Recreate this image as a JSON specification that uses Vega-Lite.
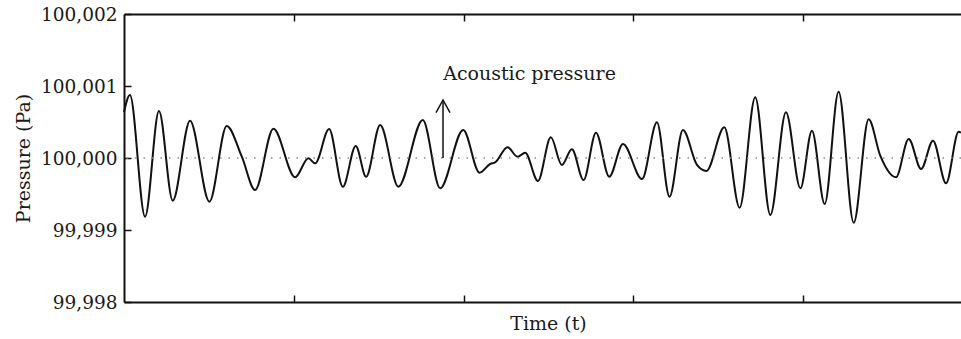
{
  "$schema": "https://vega.github.io/schema/vega-lite/v6.json",
  "width": 837,
  "height": 288,
  "autosize": "none",
  "padding": {"left": 124, "top": 14, "right": 0, "bottom": 37},
  "background": "white",
  "config": {
    "view": {"stroke": null},
    "font": "DejaVu Serif",
    "axis": {
      "domainColor": "#111",
      "domainWidth": 2,
      "tickColor": "#111",
      "tickWidth": 1.5,
      "grid": false,
      "labelFont": "DejaVu Serif",
      "titleFont": "DejaVu Serif",
      "labelColor": "#1a1a1a",
      "titleColor": "#1a1a1a",
      "titleFontWeight": "normal",
      "labelFontSize": 18.5,
      "titleFontSize": 19
    }
  },
  "datasets": {
    "wave": [
      {"t": 0.0, "p": 100000.639},
      {"t": 0.035, "p": 100000.875},
      {"t": 0.124, "p": 99999.185},
      {"t": 0.206, "p": 100000.653},
      {"t": 0.287, "p": 99999.407},
      {"t": 0.389, "p": 100000.518},
      {"t": 0.503, "p": 99999.393},
      {"t": 0.605, "p": 100000.444},
      {"t": 0.694, "p": 100000.018},
      {"t": 0.772, "p": 99999.556},
      {"t": 0.88, "p": 100000.407},
      {"t": 1.008, "p": 99999.732},
      {"t": 1.086, "p": 99999.996},
      {"t": 1.126, "p": 99999.926},
      {"t": 1.208, "p": 100000.403},
      {"t": 1.289, "p": 99999.601},
      {"t": 1.365, "p": 100000.167},
      {"t": 1.426, "p": 99999.74},
      {"t": 1.509, "p": 100000.458},
      {"t": 1.616, "p": 99999.601},
      {"t": 1.76, "p": 100000.528},
      {"t": 1.862, "p": 99999.579},
      {"t": 1.998, "p": 100000.389},
      {"t": 2.094, "p": 99999.796},
      {"t": 2.157, "p": 99999.917},
      {"t": 2.186, "p": 99999.938},
      {"t": 2.259, "p": 100000.149},
      {"t": 2.318, "p": 100000.018},
      {"t": 2.363, "p": 100000.074},
      {"t": 2.438, "p": 99999.681},
      {"t": 2.514, "p": 100000.287},
      {"t": 2.579, "p": 99999.903},
      {"t": 2.638, "p": 100000.121},
      {"t": 2.707, "p": 99999.694},
      {"t": 2.78, "p": 100000.351},
      {"t": 2.858, "p": 99999.74},
      {"t": 2.939, "p": 100000.194},
      {"t": 3.051, "p": 99999.708},
      {"t": 3.139, "p": 100000.496},
      {"t": 3.213, "p": 99999.463},
      {"t": 3.292, "p": 100000.389},
      {"t": 3.375, "p": 99999.903},
      {"t": 3.43, "p": 99999.819},
      {"t": 3.536, "p": 100000.426},
      {"t": 3.626, "p": 99999.31},
      {"t": 3.718, "p": 100000.843},
      {"t": 3.807, "p": 99999.208},
      {"t": 3.899, "p": 100000.635},
      {"t": 3.984, "p": 99999.579},
      {"t": 4.052, "p": 100000.379},
      {"t": 4.127, "p": 99999.361},
      {"t": 4.209, "p": 100000.921},
      {"t": 4.298, "p": 99999.101},
      {"t": 4.386, "p": 100000.538},
      {"t": 4.455, "p": 100000.028},
      {"t": 4.547, "p": 99999.732},
      {"t": 4.622, "p": 100000.264},
      {"t": 4.695, "p": 99999.847},
      {"t": 4.765, "p": 100000.24},
      {"t": 4.842, "p": 99999.649},
      {"t": 4.916, "p": 100000.365},
      {"t": 4.93, "p": 100000.354}
    ],
    "arrow": [
      {"t": 1.879, "p0": 100000.0, "p1": 100000.806}
    ],
    "note": [
      {"t": 1.88, "p": 100001.083, "label": "Acoustic pressure"}
    ],
    "zero": [
      {"p": 100000.0}
    ]
  },
  "layer": [
    {
      "data": {"name": "wave"},
      "mark": {"type": "line", "interpolate": "monotone", "color": "#111", "strokeWidth": 2},
      "encoding": {
        "x": {
          "field": "t",
          "type": "quantitative",
          "scale": {"domain": [0, 4.93], "nice": false, "zero": false},
          "axis": {
            "orient": "bottom",
            "values": [1, 2, 3, 4],
            "labels": false,
            "tickSize": -7,
            "title": "Time (t)",
            "titleX": 424,
            "titleY": 27,
            "titleAlign": "center",
            "titleBaseline": "alphabetic"
          }
        },
        "y": {
          "field": "p",
          "type": "quantitative",
          "scale": {"domain": [99998, 100002], "nice": false, "zero": false},
          "axis": {
            "values": [99998, 99999, 100000, 100001, 100002],
            "format": ",.0f",
            "tickSize": -7,
            "labelPadding": 14,
            "title": "Pressure (Pa)",
            "titleAngle": -90,
            "titleX": -101,
            "titleY": 144,
            "titleAlign": "center",
            "titleBaseline": "middle"
          }
        }
      }
    },
    {
      "data": {"name": "zero"},
      "mark": {"type": "rule", "color": "#888", "strokeWidth": 1.5, "strokeDash": [1.5, 7]},
      "encoding": {
        "y": {"field": "p", "type": "quantitative", "axis": null}
      }
    },
    {
      "data": {"name": "arrow"},
      "mark": {"type": "rule", "color": "#111", "strokeWidth": 1.5},
      "encoding": {
        "x": {
          "field": "t",
          "type": "quantitative",
          "axis": {
            "orient": "top",
            "values": [1, 2, 3, 4],
            "labels": false,
            "tickSize": -7,
            "title": null
          }
        },
        "y": {"field": "p0", "type": "quantitative", "axis": null},
        "y2": {"field": "p1"}
      }
    },
    {
      "data": {"name": "arrow"},
      "mark": {"type": "point", "shape": "M-1,1.8L0,0L1,1.8", "filled": false, "color": "#111", "strokeWidth": 1.5, "size": 196, "opacity": 1},
      "encoding": {
        "x": {"field": "t", "type": "quantitative", "axis": null},
        "y": {"field": "p1", "type": "quantitative", "axis": null}
      }
    },
    {
      "data": {"name": "note"},
      "mark": {"type": "text", "align": "left", "baseline": "alphabetic", "font": "DejaVu Serif", "fontSize": 19, "color": "#1a1a1a"},
      "encoding": {
        "x": {"field": "t", "type": "quantitative", "axis": null},
        "y": {"field": "p", "type": "quantitative", "axis": null},
        "text": {"field": "label"}
      }
    }
  ],
  "resolve": {"axis": {"x": "independent", "y": "independent"}}
}
